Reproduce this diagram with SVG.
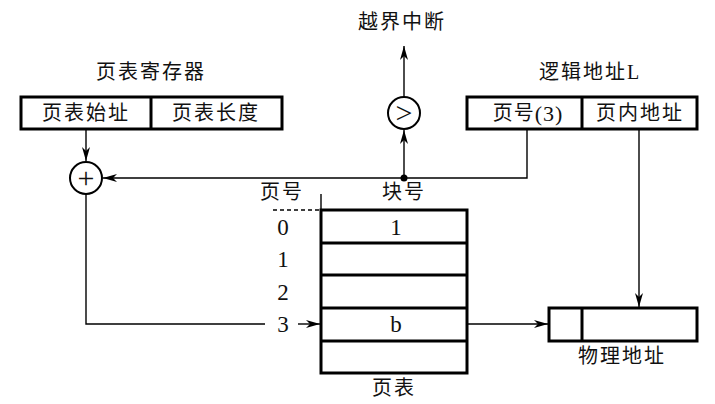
<svg xmlns="http://www.w3.org/2000/svg" width="715" height="404" viewBox="0 0 715 404">
<style>
.box{fill:none;stroke:#000;stroke-width:3}
.ln{fill:none;stroke:#000;stroke-width:1.4}
.t{font-family:"Liberation Serif","Noto Sans CJK SC",serif;font-size:20px;fill:#111;text-anchor:middle;dominant-baseline:central}
.cj{letter-spacing:2px}
.n{font-size:23px}
.sym{font-size:30px}
</style>
<defs>
<marker id="ah" viewBox="0 0 14 8" refX="14" refY="4" markerWidth="14" markerHeight="8" markerUnits="userSpaceOnUse" orient="auto">
<path d="M0,0 L14,4 L0,8 L4,4 z" fill="#000"/>
</marker>
</defs>
<rect width="715" height="404" fill="#fff"/>

<g id="connectors">
<line class="ln" x1="86" y1="130" x2="86" y2="161" marker-end="url(#ah)"/>
<polyline class="ln" points="527,130 527,178 103,178" marker-end="url(#ah)"/>
<line class="ln" x1="404" y1="178" x2="404" y2="130" marker-end="url(#ah)"/>
<line class="ln" x1="404" y1="97" x2="404" y2="46" marker-end="url(#ah)"/>
<circle cx="404" cy="178" r="3.5" fill="#000"/>
<polyline class="ln" points="86,194 86,324 265,324"/>
<line class="ln" x1="298" y1="324" x2="320" y2="324" marker-end="url(#ah)"/>
<line class="ln" x1="468" y1="324" x2="548" y2="324" marker-end="url(#ah)"/>
<line class="ln" x1="639" y1="130" x2="639" y2="307" marker-end="url(#ah)"/>
<line class="ln" x1="321" y1="194" x2="321" y2="210"/>
<line class="ln" x1="273" y1="210" x2="321" y2="210" stroke-dasharray="4,3"/>
</g>

<g id="page-table-register">
<text class="t cj" x="151" y="72">页表寄存器</text>
<rect class="box" x="21" y="97" width="261" height="32"/>
<line class="box" x1="151" y1="97" x2="151" y2="129"/>
<text class="t cj" x="86" y="113">页表始址</text>
<text class="t cj" x="216" y="113">页表长度</text>
</g>

<g id="adder">
<circle cx="86" cy="178" r="16" fill="#fff" stroke="#000" stroke-width="2"/>
<text class="t sym" x="86" y="177">+</text>
</g>

<g id="comparator">
<circle cx="404" cy="113" r="16" fill="#fff" stroke="#000" stroke-width="2"/>
<text class="t sym" x="404" y="112">&gt;</text>
<text class="t cj" x="402" y="22">越界中断</text>
</g>

<g id="logical-address">
<text class="t cj" x="590" y="72">逻辑地址L</text>
<rect class="box" x="467" y="97" width="230" height="32"/>
<line class="box" x1="582" y1="97" x2="582" y2="129"/>
<text class="t" x="528" y="113" style="letter-spacing:1px">页号<tspan style="font-size:22px">(3)</tspan></text>
<text class="t cj" x="640" y="113">页内地址</text>
</g>

<g id="page-table">
<text class="t cj" x="282" y="192">页号</text>
<text class="t cj" x="404" y="192">块号</text>
<rect class="box" x="321" y="210" width="146" height="163"/>
<line class="box" x1="321" y1="243" x2="467" y2="243"/>
<line class="box" x1="321" y1="275" x2="467" y2="275"/>
<line class="box" x1="321" y1="308" x2="467" y2="308"/>
<line class="box" x1="321" y1="341" x2="467" y2="341"/>
<text class="t n" x="283" y="227">0</text>
<text class="t n" x="283" y="259">1</text>
<text class="t n" x="283" y="292">2</text>
<text class="t n" x="283" y="324">3</text>
<text class="t n" x="396" y="227">1</text>
<text class="t n" x="396" y="324">b</text>
<text class="t cj" x="394" y="388">页表</text>
</g>

<g id="physical-address">
<rect class="box" x="549" y="308" width="148" height="33"/>
<line class="box" x1="582" y1="308" x2="582" y2="341"/>
<text class="t cj" x="622" y="356">物理地址</text>
</g>
</svg>
